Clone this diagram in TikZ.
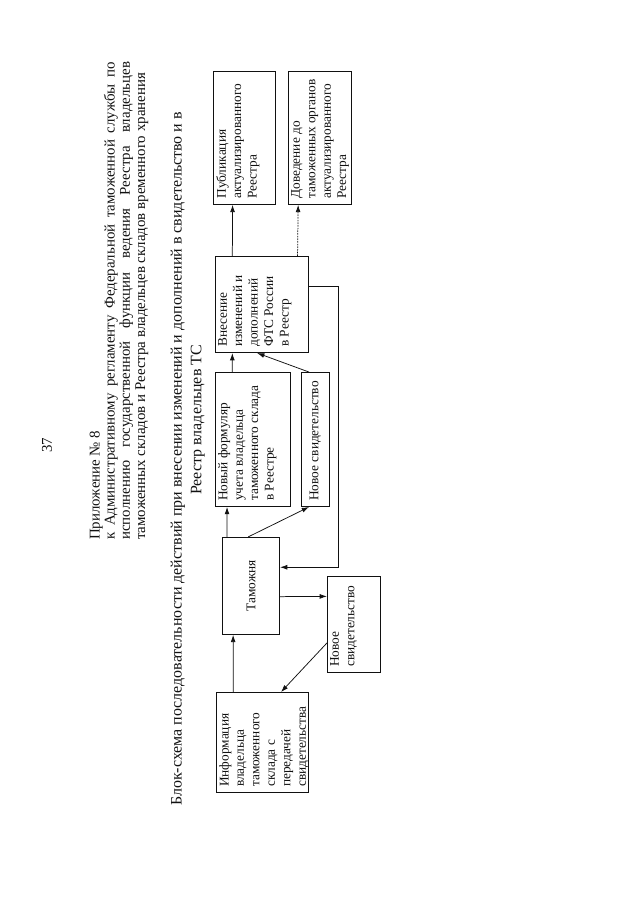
\documentclass[tikz,border=0pt]{standalone}
\usepackage{fontspec}
\setmainfont{Liberation Serif}
\usetikzlibrary{arrows.meta, positioning, calc}
\definecolor{ink}{HTML}{111111}
\tikzset{
  box/.style    ={draw=ink, line width=0.9pt, anchor=north west, inner sep=0pt,
                  font=\fontsize{12.5}{14.5}\selectfont, text=ink},
  boxtxt/.style ={anchor=north west, align=left, inner xsep=0.2cm, inner ysep=0.1cm,
                  font=\fontsize{12.5}{14.5}\selectfont, text=ink},
  flow/.style   ={-{Latex[length=2.4mm,width=1.6mm]}, line width=0.7pt, draw=ink},
  flowd/.style  ={flow, dash pattern=on 1.5pt off 1pt},
  head/.style   ={font=\fontsize{14}{14.3}\selectfont, text=ink, inner sep=0pt},
  heading/.style={font=\fontsize{15}{19}\selectfont, text=ink, inner sep=0pt}
}

\begin{document}
\begin{tikzpicture}[rotate=90, transform shape]
  \useasboundingbox (0,0) rectangle (29.7,21.12);
  \fill[white] (0,0) rectangle (29.7,21.12);

  % page head
  \node[head] (pnum) at (15.0,19.57) {37};
  \node[head, anchor=north west, text width=15.77cm, align=justify] (annex) at (11.88,18.17)
    {Приложение № 8\\
     к Административному регламенту Федеральной таможенной службы по\linebreak
     исполнению государственной функции ведения Реестра владельцев\linebreak
     таможенных складов и Реестра владельцев складов временного хранения};
  \node[heading, anchor=west] (ttl1) at (3.1,15.25)
    {Блок-схема последовательности действий при внесении изменений и дополнений в свидетельство и в};
  \node[heading] (ttl2) at (15.84,14.59) {Реестр владельцев ТС};

  % boxes
  \node[box, minimum width=3.30cm, minimum height=3.03cm,
        label={[boxtxt]north west:{Информация\\владельца\\таможенного\\склада с\\передачей\\свидетельства}}]
        (info) at (3.53,13.99) {};
  \node[box, minimum width=3.17cm, minimum height=1.75cm,
        label={[boxtxt]north west:{Новое\\свидетельство}}] (cert1) at (7.49,10.33) {};
  \node[box, minimum width=3.20cm, minimum height=1.88cm] (customs) at (8.75,13.79) {Таможня};
  \node[box, minimum width=4.42cm, minimum height=2.48cm,
        label={[boxtxt]north west:{Новый формуляр\\учета владельца\\таможенного склада\\в Реестре}}]
        (form) at (12.97,14.03) {};
  \node[box, minimum width=4.42cm, minimum height=0.92cm, below=0.33cm of form.south west,
        anchor=north west, label={[boxtxt, anchor=west]west:Новое свидетельство}] (cert2) {};
  \node[box, minimum width=3.17cm, minimum height=3.07cm,
        label={[boxtxt]north west:{Внесение\\изменений и\\дополнений\\ФТС России\\в Реестр}}]
        (entry) at (18.05,14.03) {};
  \node[box, minimum width=4.38cm, minimum height=2.05cm,
        label={[boxtxt]north west:{Публикация\\актуализированного\\Реестра}}]
        (pub) at (22.94,14.09) {};
  \node[box, minimum width=4.38cm, minimum height=2.08cm, below=0.39cm of pub.south west,
        anchor=north west,
        label={[boxtxt]north west:{Доведение до\\таможенных органов\\актуализированного\\Реестра}}]
        (notify) {};

  % connectors
  \draw[flow] ($(info.north east)!0.185!(info.south east)$) -- ($(customs.north west)!0.19!(customs.south west)$);
  \draw[flow] ($(customs.south west)!0.39!(customs.south east)$) -- ($(cert1.north west)!0.79!(cert1.north east)$);
  \draw[flow] ($(cert1.north west)!0.31!(cert1.north east)$) -- ($(info.north east)!0.70!(info.south east)$);
  \draw[flow] ($(customs.north east)!0.085!(customs.south east)$) -- ($(form.north west)!0.16!(form.south west)$);
  \draw[flow] ($(customs.north east)!0.45!(customs.south east)$) -- ($(cert2.north west)!0.28!(cert2.south west)$);
  \draw[flow] ($(form.north east)!0.23!(form.south east)$) -- ($(entry.north west)!0.186!(entry.south west)$);
  \draw[flow] ($(cert2.north east)!0.28!(cert2.south east)$) -- ($(entry.north west)!0.45!(entry.south west)$);
  \draw[flow] ($(entry.north east)!0.186!(entry.south east)$) -- ($(pub.north west)!0.31!(pub.south west)$);
  \draw[flowd] ($(entry.north east)!0.88!(entry.south east)$) -- ($(notify.north west)!0.16!(notify.south west)$);
  \draw[flow] ($(entry.south west)!0.69!(entry.south east)$) -- ++(0,-0.96)
              -| ($(customs.south west)!0.69!(customs.south east)$);
\end{tikzpicture}
\end{document}
